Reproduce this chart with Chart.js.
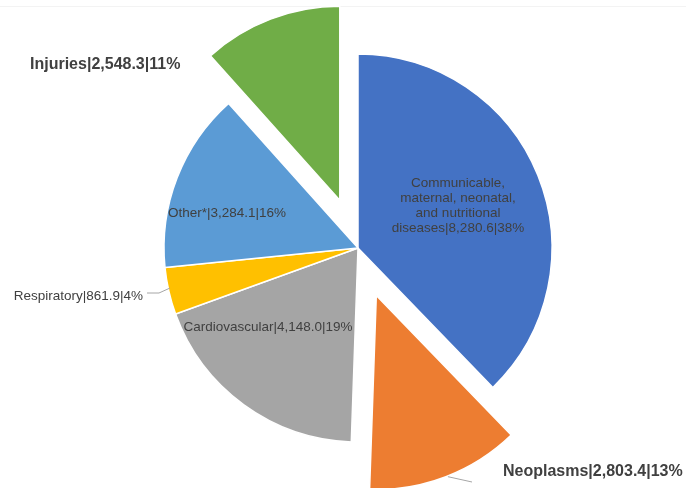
<!DOCTYPE html>
<html>
<head>
<meta charset="utf-8">
<script src="https://cdn.jsdelivr.net/npm/chart.js@4/dist/chart.umd.min.js"></script>
<style>
  html, body { margin: 0; padding: 0; background: #ffffff; }
  #wrap { position: relative; width: 686px; height: 488px; }
  #topline { position: absolute; left: 0; top: 6px; width: 686px; height: 1px; background: #f3f3f3; }
  canvas { position: absolute; left: 0; top: 0; }
</style>
</head>
<body>
<div id="wrap">
  <div id="topline"></div>
  <canvas id="pie" width="686" height="488"></canvas>
</div>
<script>
// Causes of death (thousands) by broad cause group
const categories = ['Communicable, maternal, neonatal, and nutritional diseases', 'Neoplasms', 'Cardiovascular', 'Respiratory', 'Other*', 'Injuries'];
const shortNames = ['diseases', 'Neoplasms', 'Cardiovascular', 'Respiratory', 'Other*', 'Injuries'];
const values = [8280.6, 2803.4, 4148.0, 861.9, 3284.1, 2548.3];
const shares = ['38%', '13%', '19%', '4%', '16%', '11%'];
const colors = ['#4472C4', '#ED7D31', '#A5A5A5', '#FFC000', '#5B9BD5', '#70AD47'];
const explode = [0, 51, 0, 0, 0, 51];

const fmt = v => v.toLocaleString('en-US', { minimumFractionDigits: 1, maximumFractionDigits: 1 });
const labelText = i => shortNames[i] + '|' + fmt(values[i]) + '|' + shares[i];

// Label placement: in-slice labels are centered, outside labels sit beside their slice
const labelLayout = [
  { lines: ['Communicable,', 'maternal, neonatal,', 'and nutritional'], x: 458, y: 228, align: 'center', bold: false, lineH: 15 },
  { x: 503, y: 472, align: 'left', bold: true, leader: [[472, 482]] },
  { x: 268, y: 327, align: 'center', bold: false },
  { x: 143, y: 296, align: 'right', bold: false, leader: [[147, 293], [159, 293]] },
  { x: 227, y: 213, align: 'center', bold: false },
  { x: 30, y: 65, align: 'left', bold: true }
];

// Push selected slices outward along their mid-angle
const explodePlugin = {
  id: 'explode',
  afterDatasetUpdate(chart, args) {
    const meta = chart.getDatasetMeta(args.index);
    meta.data.forEach((el, i) => {
      const d = explode[i] || 0;
      if (!d) return;
      const mid = (el.startAngle + el.endAngle) / 2;
      el.x += Math.cos(mid) * d;
      el.y += Math.sin(mid) * d;
    });
  }
};

const labelPlugin = {
  id: 'sliceLabels',
  afterDatasetsDraw(chart) {
    const ctx = chart.ctx;
    const meta = chart.getDatasetMeta(0);
    ctx.save();
    ctx.textBaseline = 'middle';
    meta.data.forEach((el, i) => {
      const L = labelLayout[i];
      // leader line from the slice rim
      if (L.leader) {
        const mid = (el.startAngle + el.endAngle) / 2;
        const sx = el.x + Math.cos(mid) * el.outerRadius;
        const sy = el.y + Math.sin(mid) * el.outerRadius;
        const pts = i === 1 ? [[sx + 2, sy], ...L.leader] : [...L.leader, [sx + 1, sy - 3]];
        ctx.beginPath();
        ctx.strokeStyle = '#A6A6A6';
        ctx.lineWidth = 1;
        ctx.moveTo(pts[0][0], pts[0][1]);
        for (let k = 1; k < pts.length; k++) ctx.lineTo(pts[k][0], pts[k][1]);
        ctx.stroke();
      }
      ctx.fillStyle = '#404040';
      ctx.font = (L.bold ? 'bold 16px' : '13.5px') + ' "Liberation Sans", Arial, sans-serif';
      ctx.textAlign = L.align;
      const text = labelText(i);
      if (L.lines) {
        const all = [...L.lines, text];
        const top = L.y - (all.length - 1) * L.lineH;
        all.forEach((t, k) => ctx.fillText(t, L.x, top + k * L.lineH));
      } else {
        ctx.fillText(text, L.x, L.y);
      }
    });
    ctx.restore();
  }
};

new Chart(document.getElementById('pie'), {
  type: 'pie',
  data: {
    labels: categories,
    datasets: [{
      data: values,
      backgroundColor: colors,
      borderColor: '#ffffff',
      borderWidth: 1.5,
      clip: false
    }]
  },
  options: {
    responsive: false,
    animation: false,
    radius: 194,
    layout: { padding: { left: 30, right: 0, top: 8, bottom: 0 } },
    plugins: {
      legend: { display: false },
      tooltip: { enabled: false }
    }
  },
  plugins: [explodePlugin, labelPlugin]
});
</script>
</body>
</html>
